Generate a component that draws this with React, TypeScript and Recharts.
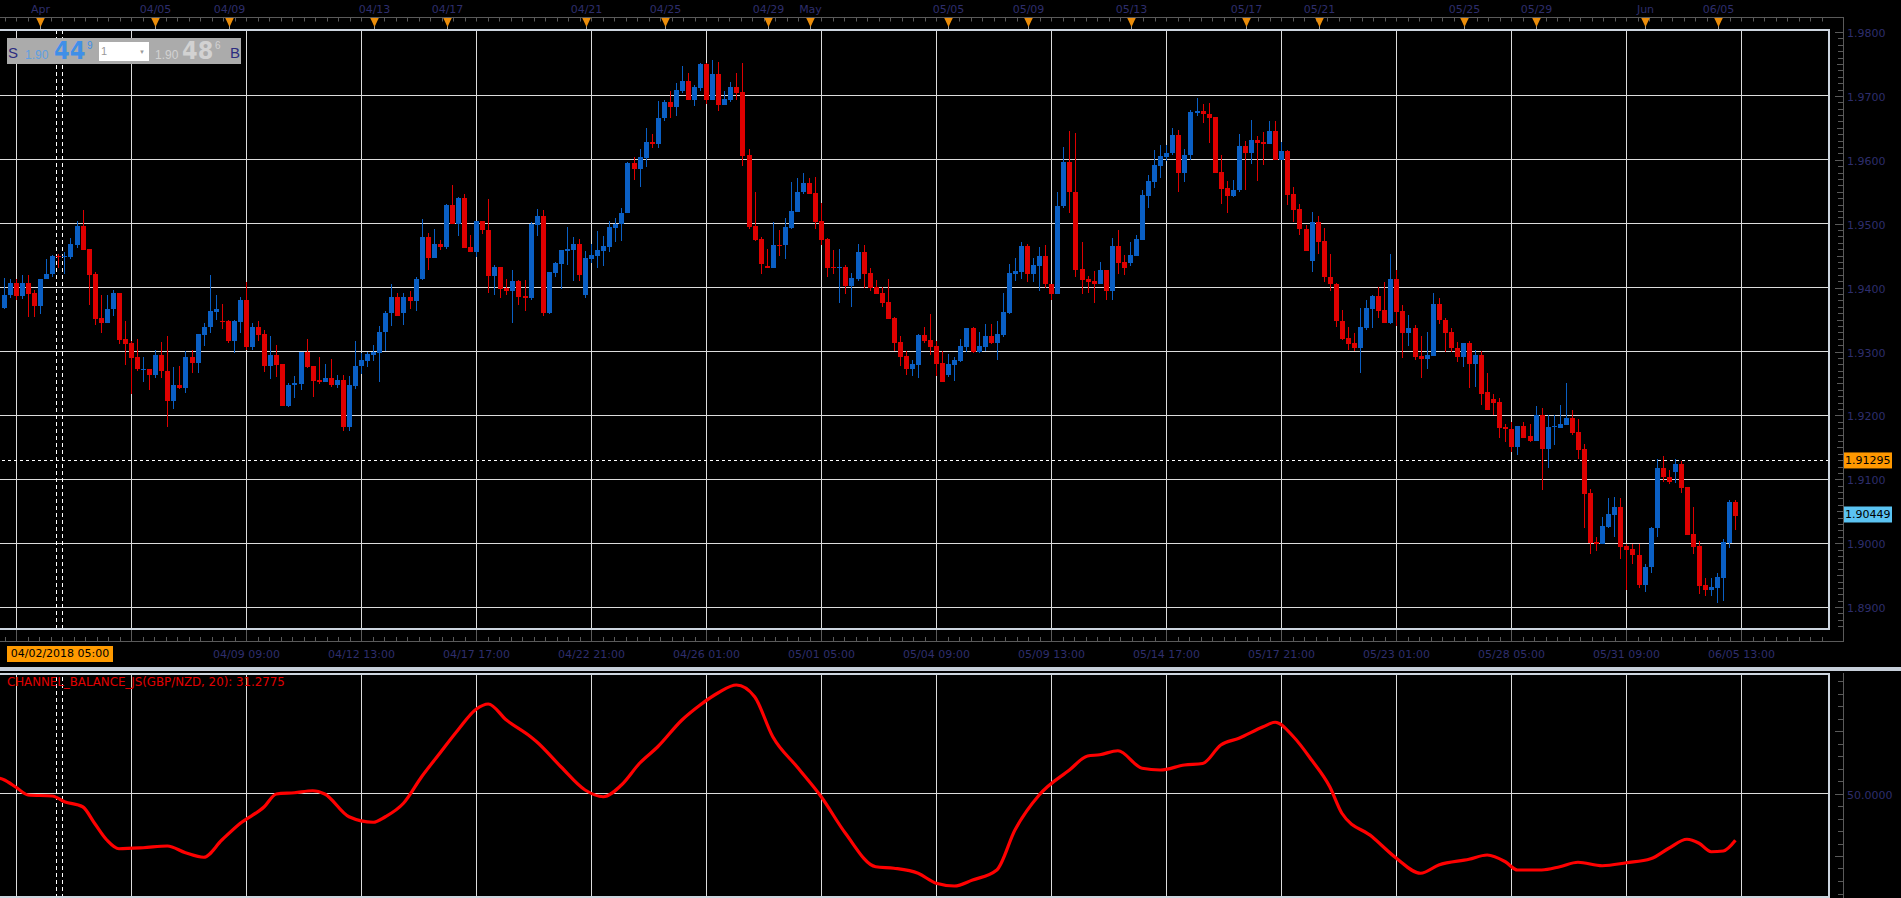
import React from 'react';
import { ComposedChart, Bar, Line, XAxis, YAxis, ReferenceLine } from 'recharts';

// ---------- DATA (GBP/NZD 4H candles, index 0 = first fully visible candle) ----------
const opens = [
  1.9368,1.9388,1.9407,1.9387,1.9407,1.9391,1.9371,1.9413,1.9421,1.9450,
  1.9448,1.9448,1.9467,1.9497,1.9460,1.9421,1.9352,1.9344,1.9366,1.9391,
  1.9319,1.9313,1.9291,1.9272,1.9273,1.9263,1.9295,1.9270,1.9222,1.9247,
  1.9243,1.9292,1.9282,1.9326,1.9338,1.9362,1.9348,1.9347,1.9316,1.9346,
  1.9380,1.9307,1.9338,1.9327,1.9277,1.9294,1.9280,1.9215,1.9247,1.9249,
  1.9299,1.9277,1.9255,1.9252,1.9258,1.9247,1.9256,1.9182,1.9246,1.9277,
  1.9285,1.9294,1.9297,1.9330,1.9360,1.9385,1.9360,1.9385,1.9379,1.9413,
  1.9479,1.9446,1.9469,1.9463,1.9530,1.9500,1.9541,1.9463,1.9456,1.9504,
  1.9490,1.9418,1.9432,1.9400,1.9394,1.9410,1.9387,1.9384,1.9498,1.9512,
  1.9361,1.9423,1.9437,1.9458,1.9459,1.9468,1.9389,1.9445,1.9450,1.9458,
  1.9464,1.9494,1.9499,1.9516,1.9595,1.9586,1.9603,1.9628,1.9625,1.9665,
  1.9691,1.9682,1.9708,1.9723,1.9694,1.9713,1.9750,1.9694,1.9734,1.9686,
  1.9694,1.9714,1.9706,1.9608,1.9496,1.9476,1.9434,1.9431,1.9467,1.9466,
  1.9494,1.9519,1.9549,1.9564,1.9548,1.9504,1.9476,1.9432,1.9430,1.9432,
  1.9403,1.9414,1.9456,1.9423,1.9401,1.9392,1.9377,1.9353,1.9315,1.9293,
  1.9273,1.9279,1.9326,1.9318,1.9308,1.9282,1.9264,1.9279,1.9285,1.9307,
  1.9337,1.9299,1.9307,1.9324,1.9314,1.9326,1.9361,1.9422,1.9425,1.9465,
  1.9422,1.9434,1.9449,1.9406,1.9390,1.9527,1.9597,1.9550,1.9429,1.9413,
  1.9410,1.9406,1.9428,1.9395,1.9465,1.9440,1.9439,1.9450,1.9475,1.9544,
  1.9566,1.9591,1.9605,1.9610,1.9639,1.9580,1.9607,1.9674,1.9677,1.9672,
  1.9667,1.9581,1.9556,1.9544,1.9552,1.9622,1.9611,1.9631,1.9628,1.9625,
  1.9645,1.9599,1.9614,1.9547,1.9523,1.9492,1.9441,1.9503,1.9473,1.9417,
  1.9406,1.9348,1.9321,1.9313,1.9306,1.9337,1.9367,1.9387,1.9365,1.9345,
  1.9413,1.9363,1.9329,1.9337,1.9293,1.9289,1.9293,1.9374,1.9350,1.9330,
  1.9306,1.9292,1.9314,1.9281,1.9294,1.9236,1.9225,1.9221,1.9182,1.9179,
  1.9151,1.9184,1.9167,1.9160,1.9201,1.9148,1.9182,1.9181,1.9185,1.9196,
  1.9174,1.9148,1.9079,1.9002,1.8998,1.9026,1.9044,1.9056,1.8996,1.8991,
  1.8982,1.8935,1.8962,1.9023,1.9118,1.9104,1.9111,1.9124,1.9088,1.9015,
  1.8996,1.8935,1.8926,1.8930,1.8946,1.9001,1.9065,
];
const highs = [
  1.9415,1.9413,1.9413,1.9419,1.9419,1.9397,1.9414,1.9444,1.9451,1.9452,
  1.9456,1.9477,1.9504,1.9522,1.9460,1.9425,1.9388,1.9388,1.9397,1.9391,
  1.9347,1.9317,1.9320,1.9292,1.9273,1.9302,1.9315,1.9324,1.9275,1.9278,
  1.9301,1.9303,1.9328,1.9345,1.9419,1.9389,1.9375,1.9349,1.9350,1.9386,
  1.9408,1.9345,1.9347,1.9333,1.9325,1.9310,1.9280,1.9250,1.9261,1.9299,
  1.9320,1.9277,1.9291,1.9281,1.9288,1.9264,1.9264,1.9261,1.9316,1.9297,
  1.9300,1.9310,1.9340,1.9364,1.9405,1.9391,1.9392,1.9394,1.9416,1.9508,
  1.9486,1.9491,1.9474,1.9531,1.9560,1.9542,1.9546,1.9483,1.9505,1.9505,
  1.9539,1.9435,1.9432,1.9414,1.9427,1.9412,1.9412,1.9503,1.9523,1.9521,
  1.9424,1.9440,1.9459,1.9495,1.9479,1.9476,1.9457,1.9468,1.9489,1.9481,
  1.9504,1.9509,1.9525,1.9596,1.9604,1.9617,1.9650,1.9640,1.9692,1.9694,
  1.9708,1.9720,1.9747,1.9736,1.9717,1.9751,1.9751,1.9756,1.9753,1.9708,
  1.9722,1.9736,1.9752,1.9617,1.9550,1.9479,1.9461,1.9503,1.9490,1.9509,
  1.9565,1.9572,1.9579,1.9572,1.9573,1.9532,1.9478,1.9459,1.9460,1.9435,
  1.9423,1.9469,1.9467,1.9431,1.9412,1.9401,1.9414,1.9354,1.9325,1.9301,
  1.9287,1.9328,1.9339,1.9358,1.9317,1.9301,1.9296,1.9292,1.9319,1.9337,
  1.9338,1.9330,1.9343,1.9343,1.9348,1.9392,1.9437,1.9446,1.9471,1.9468,
  1.9446,1.9464,1.9467,1.9406,1.9550,1.9620,1.9645,1.9642,1.9471,1.9418,
  1.9426,1.9440,1.9428,1.9478,1.9490,1.9451,1.9471,1.9482,1.9553,1.9576,
  1.9615,1.9623,1.9623,1.9650,1.9647,1.9617,1.9678,1.9697,1.9687,1.9689,
  1.9667,1.9608,1.9567,1.9568,1.9641,1.9630,1.9662,1.9637,1.9644,1.9661,
  1.9661,1.9628,1.9615,1.9557,1.9531,1.9498,1.9518,1.9512,1.9493,1.9453,
  1.9407,1.9365,1.9338,1.9329,1.9368,1.9381,1.9388,1.9401,1.9409,1.9453,
  1.9428,1.9373,1.9357,1.9341,1.9324,1.9330,1.9392,1.9384,1.9352,1.9336,
  1.9315,1.9314,1.9317,1.9303,1.9301,1.9267,1.9234,1.9228,1.9187,1.9189,
  1.9184,1.9189,1.9187,1.9215,1.9211,1.9200,1.9200,1.9217,1.9250,1.9209,
  1.9195,1.9156,1.9085,1.9010,1.9041,1.9070,1.9073,1.9070,1.8999,1.8998,
  1.8998,1.8968,1.9026,1.9132,1.9137,1.9115,1.9132,1.9128,1.9088,1.9057,
  1.9004,1.8946,1.8946,1.8954,1.9007,1.9068,1.9068,
];
const lows = [
  1.9366,1.9384,1.9381,1.9382,1.9354,1.9354,1.9359,1.9413,1.9417,1.9431,
  1.9421,1.9445,1.9462,1.9459,1.9373,1.9342,1.9329,1.9344,1.9355,1.9312,
  1.9279,1.9234,1.9270,1.9252,1.9240,1.9258,1.9258,1.9182,1.9210,1.9241,
  1.9235,1.9266,1.9266,1.9308,1.9329,1.9349,1.9335,1.9313,1.9297,1.9329,
  1.9302,1.9302,1.9316,1.9268,1.9257,1.9260,1.9215,1.9213,1.9227,1.9240,
  1.9274,1.9229,1.9249,1.9252,1.9244,1.9243,1.9176,1.9176,1.9241,1.9265,
  1.9276,1.9285,1.9252,1.9301,1.9340,1.9355,1.9341,1.9366,1.9363,1.9412,
  1.9427,1.9446,1.9459,1.9460,1.9500,1.9481,1.9462,1.9456,1.9448,1.9484,
  1.9392,1.9389,1.9384,1.9389,1.9345,1.9373,1.9364,1.9381,1.9480,1.9356,
  1.9359,1.9417,1.9398,1.9436,1.9411,1.9411,1.9384,1.9439,1.9431,1.9434,
  1.9456,1.9472,1.9473,1.9516,1.9569,1.9558,1.9589,1.9619,1.9619,1.9660,
  1.9666,1.9669,1.9704,1.9694,1.9685,1.9708,1.9688,1.9693,1.9677,1.9686,
  1.9691,1.9693,1.9590,1.9492,1.9473,1.9422,1.9430,1.9431,1.9450,1.9444,
  1.9492,1.9519,1.9546,1.9546,1.9492,1.9467,1.9416,1.9422,1.9376,1.9390,
  1.9369,1.9411,1.9400,1.9395,1.9390,1.9370,1.9351,1.9301,1.9278,1.9264,
  1.9262,1.9259,1.9313,1.9295,1.9262,1.9253,1.9260,1.9254,1.9284,1.9300,
  1.9297,1.9298,1.9301,1.9312,1.9286,1.9323,1.9359,1.9411,1.9414,1.9409,
  1.9409,1.9394,1.9400,1.9381,1.9390,1.9525,1.9516,1.9416,1.9390,1.9392,
  1.9376,1.9406,1.9381,1.9381,1.9422,1.9420,1.9434,1.9450,1.9475,1.9525,
  1.9556,1.9572,1.9598,1.9608,1.9549,1.9566,1.9600,1.9669,1.9658,1.9627,
  1.9580,1.9531,1.9516,1.9542,1.9549,1.9553,1.9594,1.9567,1.9592,1.9625,
  1.9599,1.9599,1.9530,1.9502,1.9483,1.9458,1.9425,1.9453,1.9409,1.9395,
  1.9339,1.9318,1.9303,1.9301,1.9267,1.9333,1.9336,1.9353,1.9345,1.9343,
  1.9340,1.9290,1.9309,1.9286,1.9259,1.9273,1.9293,1.9343,1.9300,1.9299,
  1.9284,1.9275,1.9243,1.9245,1.9217,1.9209,1.9201,1.9165,1.9159,1.9143,
  1.9138,1.9165,1.9159,1.9160,1.9084,1.9117,1.9154,1.9181,1.9185,1.9170,
  1.9131,1.9024,1.8983,1.8987,1.8998,1.9024,1.9009,1.8976,1.8926,1.8968,
  1.8930,1.8924,1.8953,1.9010,1.9095,1.9092,1.9094,1.9079,1.9013,1.8983,
  1.8921,1.8918,1.8918,1.8907,1.8910,1.8993,1.9021,
];
const closes = [
  1.9389,1.9407,1.9387,1.9407,1.9390,1.9371,1.9414,1.9422,1.9450,1.9448,
  1.9449,1.9468,1.9497,1.9459,1.9419,1.9351,1.9344,1.9367,1.9391,1.9318,
  1.9312,1.9290,1.9272,1.9273,1.9263,1.9295,1.9269,1.9222,1.9247,1.9243,
  1.9292,1.9282,1.9327,1.9339,1.9363,1.9366,1.9347,1.9316,1.9347,1.9380,
  1.9307,1.9338,1.9326,1.9277,1.9294,1.9279,1.9215,1.9248,1.9250,1.9299,
  1.9276,1.9254,1.9252,1.9258,1.9247,1.9256,1.9182,1.9247,1.9278,1.9286,
  1.9296,1.9299,1.9331,1.9361,1.9385,1.9355,1.9385,1.9379,1.9414,1.9479,
  1.9446,1.9469,1.9463,1.9530,1.9500,1.9541,1.9462,1.9456,1.9504,1.9490,
  1.9418,1.9432,1.9398,1.9394,1.9410,1.9386,1.9384,1.9500,1.9512,1.9361,
  1.9424,1.9438,1.9459,1.9460,1.9468,1.9419,1.9446,1.9451,1.9459,1.9465,
  1.9495,1.9500,1.9517,1.9595,1.9586,1.9604,1.9628,1.9625,1.9666,1.9691,
  1.9682,1.9709,1.9723,1.9694,1.9714,1.9750,1.9694,1.9734,1.9686,1.9695,
  1.9714,1.9705,1.9606,1.9495,1.9474,1.9437,1.9431,1.9467,1.9466,1.9495,
  1.9520,1.9550,1.9564,1.9547,1.9503,1.9474,1.9431,1.9430,1.9432,1.9403,
  1.9415,1.9456,1.9422,1.9400,1.9390,1.9376,1.9351,1.9314,1.9292,1.9273,
  1.9281,1.9326,1.9317,1.9307,1.9281,1.9253,1.9281,1.9287,1.9309,1.9337,
  1.9299,1.9309,1.9324,1.9314,1.9327,1.9362,1.9423,1.9426,1.9465,1.9422,
  1.9435,1.9449,1.9405,1.9390,1.9528,1.9597,1.9549,1.9428,1.9412,1.9409,
  1.9406,1.9428,1.9395,1.9465,1.9439,1.9430,1.9451,1.9476,1.9545,1.9567,
  1.9592,1.9606,1.9611,1.9639,1.9580,1.9608,1.9675,1.9677,1.9671,1.9666,
  1.9580,1.9555,1.9544,1.9553,1.9622,1.9611,1.9631,1.9627,1.9625,1.9645,
  1.9599,1.9614,1.9545,1.9522,1.9491,1.9458,1.9503,1.9472,1.9416,1.9405,
  1.9347,1.9320,1.9312,1.9306,1.9338,1.9368,1.9387,1.9364,1.9345,1.9413,
  1.9362,1.9329,1.9337,1.9292,1.9289,1.9294,1.9374,1.9350,1.9329,1.9305,
  1.9292,1.9314,1.9281,1.9294,1.9234,1.9209,1.9220,1.9181,1.9178,1.9151,
  1.9184,1.9165,1.9160,1.9201,1.9148,1.9182,1.9183,1.9187,1.9196,1.9173,
  1.9146,1.9077,1.9001,1.8998,1.9027,1.9045,1.9056,1.8994,1.8990,1.8981,
  1.8935,1.8963,1.9024,1.9118,1.9103,1.9095,1.9124,1.9087,1.9013,1.8994,
  1.8933,1.8926,1.8932,1.8947,1.9002,1.9065,1.9043,
];

// Channel balance indicator, read at candle indices
const indicatorIdx = [-1,0,2,4,8,10,13,15,17,19,23,27,30,33,36,39,43,45,48,51,53,57,61,63,66,69,72,75,78,80,83,87,88,92,96,99,102,105,108,112,115,118,121,124,127,131,135,139,144,147,151,154,157,160,164,167,171,176,179,181,184,188,191,195,198,201,204,208,210,213,216,219,221,226,230,234,237,242,245,248,250,254,257,260,264,268,272,275,278,280,282,284,286];
const indicatorVal = [56.3,55.5,52.5,49.4,49.0,46.7,44.7,38.0,31.4,27.9,28.3,29.0,26.3,24.5,31.4,38.0,44.7,49.8,50.3,51.1,49.8,40.7,38.5,40.7,46.1,56.7,66.1,75.4,83.7,85.8,79.4,72.7,70.7,60.7,51.4,48.7,53.4,62.1,68.7,79.4,85.4,90.3,93.4,88.7,72.7,60.7,48.7,34.1,20.7,20.1,18.1,14.1,13.0,15.4,19.4,35.4,49.4,59.4,65.0,65.5,67.1,60.1,59.4,61.4,62.0,69.4,72.1,76.7,78.5,72.7,63.4,52.7,42.1,32.7,24.1,18.1,21.4,23.7,25.4,22.7,19.4,19.4,20.7,22.5,21.1,22.3,23.9,28.1,31.7,30.1,26.7,27.0,31.28];

// Axis / grid values
const gridIdx = [2,21,40,59,78,97,116,135,154,173,192,211,230,249,268,287];
const priceGrid = [1.89,1.90,1.91,1.92,1.93,1.94,1.95,1.96,1.97];
const bottomLabelIdx = [40,59,78,97,116,135,154,173,192,211,230,249,268,287];
const bottomLabelText = ['04/09 09:00','04/12 13:00','04/17 17:00','04/22 21:00','04/26 01:00','05/01 05:00','05/04 09:00','05/09 13:00','05/14 17:00','05/17 21:00','05/23 01:00','05/28 05:00','05/31 09:00','06/05 13:00'];
const topLabelIdx = [5.9,24.9,37.1,61.1,73.2,96.2,109.2,126.2,133.2,156,169.1,186.1,205.1,217.2,241.1,253,271,283.1];
const topLabelText = ['Apr','04/05','04/09','04/13','04/17','04/21','04/25','04/29','May','05/05','05/09','05/13','05/17','05/21','05/25','05/29','Jun','06/05'];
const crossIdx = [8.66, 9.65];
const CROSS_PRICE = 1.91295;
const LAST_PRICE = 1.90449;
const LAST_IND = 31.2775;

// ---------- STYLE ----------
const AXFONT = '"DejaVu Sans", Verdana, sans-serif';
const NAVY = '#2e2e6c';
const RED = '#de0000';
const BLUE = '#0a5fc4';
const GRID = '#dcdcdc';
const FRAME = '#cdd5df';
const AXISC = '#5a5a5a';
const AX = 1843;
const X_DOMAIN: [number, number] = [-0.644, 301.46];
const PRICE_DOMAIN: [number, number] = [1.88657, 1.98016];
const IND_DOMAIN: [number, number] = [8.2, 98.2];

const candles = opens.map((o, i) => {
  const c = closes[i];
  const h = Math.max(highs[i], o, c);
  const l = Math.min(lows[i], o, c);
  return { i, o, h, l, c, range: [l, h] };
});
const indData = indicatorIdx.map((i, k) => ({ i, v: indicatorVal[k] }));

const minorTicks = Array.from({ length: 159 }, (_, k) => Math.round((2 + 1.9 * (k - 1)) * 100) / 100);
const topLabelMap = new Map<number, string>(topLabelIdx.map((v, k) => [v, topLabelText[k]]));
const bottomLabelMap = new Map<number, string>(bottomLabelIdx.map((v, k) => [v, bottomLabelText[k]]));
const topTicks = [...minorTicks, ...topLabelIdx];
const priceTicks = [...Array.from({ length: 94 }, (_, k) => Math.round((1.887 + k * 0.001) * 1000) / 1000), CROSS_PRICE, LAST_PRICE];
const indTicks = Array.from({ length: 18 }, (_, k) => 10 + k * 5);

const coordOf = (p: any, axis: 'x' | 'y') => {
  const c = p?.payload?.coordinate;
  return typeof c === 'number' ? c : p[axis];
};

const Candle = (props: any) => {
  const { x, y, width, height, payload } = props;
  if (x == null || y == null || !payload) return null;
  const top = Math.min(y, y + height);
  const bot = Math.max(y, y + height);
  const { o, c, h, l } = payload;
  const toY = (v: number) => (h === l ? top : top + ((h - v) / (h - l)) * (bot - top));
  const color = c >= o ? BLUE : RED;
  const w = Math.max(1, Math.round(width));
  const left = Math.round(x);
  const cx = left + Math.floor(w / 2) + 0.5;
  const b1 = Math.round(toY(Math.max(o, c)));
  const b2 = Math.round(toY(Math.min(o, c)));
  return (
    <g>
      <line x1={cx} x2={cx} y1={Math.round(top)} y2={Math.round(bot)} stroke={color} strokeWidth={1} />
      <rect x={left} y={b1} width={w} height={Math.max(1, b2 - b1)} fill={color} shapeRendering="crispEdges" />
    </g>
  );
};

const TopTick = (p: any) => {
  const v = p.payload.value;
  const x = Math.round(coordOf(p, 'x')) + 0.5;
  const lbl = topLabelMap.get(v);
  if (lbl) {
    return (
      <g>
        <text x={x} y={12.5} textAnchor="middle" fill={NAVY} fontSize={11} fontFamily={AXFONT}>{lbl}</text>
        <line x1={x} x2={x} y1={25} y2={30} stroke="#9a9a9a" />
        <path d={`M${x - 4.5},17.5 L${x + 4.5},17.5 L${x},27 Z`} fill="#eb8d0b" />
      </g>
    );
  }
  return <line x1={x} x2={x} y1={17} y2={21.5} stroke={AXISC} />;
};

const BottomTick = (p: any) => {
  const v = p.payload.value;
  const x = Math.round(coordOf(p, 'x')) + 0.5;
  const r = (v - 2) / 19;
  const major = Math.abs(r - Math.round(r)) < 0.01;
  const lbl = major ? bottomLabelMap.get(Math.round(v)) : undefined;
  return (
    <g>
      <line x1={x} x2={x} y1={major ? 630 : 637} y2={641} stroke={AXISC} />
      {lbl && <text x={x} y={658} textAnchor="middle" fill={NAVY} fontSize={11} fontFamily={AXFONT}>{lbl}</text>}
    </g>
  );
};

const PriceTick = (p: any) => {
  const v = p.payload.value;
  const yc = coordOf(p, 'y');
  if (v === CROSS_PRICE || v === LAST_PRICE) {
    const cross = v === CROSS_PRICE;
    return (
      <g>
        <rect x={1844} y={yc - 8} width={48} height={16} fill={cross ? '#ff9800' : '#5bc3f2'} />
        <text x={1845} y={yc} dy={4} fontSize={11} fill="#000" fontFamily={AXFONT}>{v.toFixed(5)}</text>
      </g>
    );
  }
  const y = Math.round(yc) + 0.5;
  const m = Math.round(v * 1000);
  const major = m % 10 === 0;
  const half = m % 5 === 0;
  return (
    <g>
      <line x1={AX - (major ? 8 : half ? 6 : 5)} x2={AX} y1={y} y2={y} stroke={AXISC} />
      {major && <text x={AX + 4} y={y} dy={4} fontSize={11} fill={NAVY} fontFamily={AXFONT}>{v.toFixed(4)}</text>}
    </g>
  );
};

const IndTick = (p: any) => {
  const v = p.payload.value;
  const y = Math.round(coordOf(p, 'y')) + 0.5;
  const major = v % 25 === 0;
  return (
    <g>
      <line x1={AX - (major ? 8 : 5)} x2={AX} y1={y} y2={y} stroke={AXISC} />
      {v === 50 && <text x={AX + 4} y={y} dy={4} fontSize={11} fill={NAVY} fontFamily={AXFONT}>50.0000</text>}
    </g>
  );
};

const abs = (s: React.CSSProperties): React.CSSProperties => ({ position: 'absolute', ...s });

export default function App() {
  return (
    <div style={abs({ left: 0, top: 0, width: 1901, height: 898, background: '#000', overflow: 'hidden', fontFamily: AXFONT })}>
      {/* price panel */}
      <div style={abs({ left: 0, top: 0 })}>
        <ComposedChart width={1901} height={666} data={candles} margin={{ top: 0, right: 0, bottom: 0, left: 0 }}>
          <XAxis xAxisId="t" orientation="top" type="number" dataKey="i" domain={X_DOMAIN} allowDataOverflow height={31}
            ticks={topTicks} interval={0} tick={TopTick} tickLine={false} axisLine={false} />
          <XAxis xAxisId="b" orientation="bottom" type="number" dataKey="i" domain={X_DOMAIN} allowDataOverflow height={37}
            ticks={minorTicks} interval={0} tick={BottomTick} tickLine={false} axisLine={false} />
          <YAxis yAxisId="p" orientation="right" type="number" domain={PRICE_DOMAIN} allowDataOverflow width={72}
            ticks={priceTicks} interval={0} tick={PriceTick} tickLine={false} axisLine={false} />
          {priceGrid.map((v) => (
            <ReferenceLine key={'h' + v} xAxisId="b" yAxisId="p" y={v} stroke={GRID} strokeWidth={1} shapeRendering="crispEdges" zIndex={-50} />
          ))}
          {gridIdx.map((v) => (
            <ReferenceLine key={'v' + v} xAxisId="b" yAxisId="p" x={v} stroke={GRID} strokeWidth={1} shapeRendering="crispEdges" zIndex={-50} />
          ))}
          <ReferenceLine xAxisId="b" yAxisId="p" y={CROSS_PRICE} stroke="#ffffff" strokeDasharray="3 3" shapeRendering="crispEdges" zIndex={-40} />
          {crossIdx.map((v) => (
            <ReferenceLine key={'c' + v} xAxisId="b" yAxisId="p" x={v} stroke="#ffffff" strokeDasharray="4 3" shapeRendering="crispEdges" zIndex={-40} />
          ))}
          <Bar xAxisId="b" yAxisId="p" dataKey="range" barSize={5} shape={Candle} isAnimationActive={false} />
        </ComposedChart>
      </div>

      {/* indicator panel */}
      <div style={abs({ left: 0, top: 673 })}>
        <ComposedChart width={1901} height={225} data={indData} margin={{ top: 0, right: 0, bottom: 0, left: 0 }}>
          <XAxis xAxisId="b" type="number" dataKey="i" domain={X_DOMAIN} allowDataOverflow hide />
          <YAxis yAxisId="v" orientation="right" type="number" domain={IND_DOMAIN} allowDataOverflow width={72}
            ticks={indTicks} interval={0} tick={IndTick} tickLine={false} axisLine={false} />
          <ReferenceLine xAxisId="b" yAxisId="v" y={50} stroke={GRID} shapeRendering="crispEdges" zIndex={-50} />
          {gridIdx.map((v) => (
            <ReferenceLine key={'iv' + v} xAxisId="b" yAxisId="v" x={v} stroke={GRID} shapeRendering="crispEdges" zIndex={-50} />
          ))}
          {crossIdx.map((v) => (
            <ReferenceLine key={'ic' + v} xAxisId="b" yAxisId="v" x={v} stroke="#ffffff" strokeDasharray="4 3" shapeRendering="crispEdges" zIndex={-40} />
          ))}
          <Line xAxisId="b" yAxisId="v" dataKey="v" type="monotone" stroke="#ff0000" strokeWidth={3.2} dot={false} isAnimationActive={false} />
        </ComposedChart>
      </div>

      {/* axis lines and frames */}
      <div style={abs({ left: 0, top: 17, width: 1844, height: 1, background: AXISC })} />
      <div style={abs({ left: 0, top: 641, width: 1844, height: 1, background: AXISC })} />
      <div style={abs({ left: AX, top: 17, width: 1, height: 625, background: AXISC })} />
      <div style={abs({ left: AX, top: 673, width: 1, height: 225, background: AXISC })} />
      <div style={abs({ left: 0, top: 29, width: 1830, height: 2, background: FRAME })} />
      <div style={abs({ left: 1828, top: 29, width: 2, height: 601, background: FRAME })} />
      <div style={abs({ left: 0, top: 628, width: 1830, height: 2, background: FRAME })} />
      <div style={abs({ left: 0, top: 667, width: 1901, height: 4, background: '#c6ced9' })} />
      <div style={abs({ left: 0, top: 673, width: 1830, height: 2, background: FRAME })} />
      <div style={abs({ left: 1828, top: 673, width: 2, height: 225, background: FRAME })} />
      <div style={abs({ left: 0, top: 896, width: 1830, height: 2, background: FRAME })} />

      {/* crosshair time label */}
      <div style={abs({ left: 7, top: 646, width: 106, height: 16, background: '#ff9a00', color: '#000', fontSize: 11, lineHeight: '16px', textAlign: 'center', whiteSpace: 'nowrap' })}>
        04/02/2018 05:00
      </div>

      {/* indicator caption */}
      <div style={abs({ left: 7, top: 676, fontSize: 11.8, lineHeight: '13px', color: '#e00000', whiteSpace: 'nowrap' })}>
        {`CHANNEL_BALANCE_JS(GBP/NZD, 20): ${LAST_IND.toFixed(4)}`}
      </div>

      {/* one-click trading box */}
      <div style={abs({ left: 7, top: 38, width: 234, height: 26, background: '#ababab', fontFamily: '"Liberation Sans", Arial, sans-serif', lineHeight: 1, whiteSpace: 'nowrap' })}>
        <span style={abs({ left: 1, top: 7, fontSize: 15, color: '#2d2d80' })}>S</span>
        <span style={abs({ left: 18, top: 11, fontSize: 12, color: '#5f9fe2' })}>1.90</span>
        <span style={abs({ left: 47, top: 0, fontSize: 25, fontWeight: 'bold', color: '#3f8fe8', fontFamily: '"Liberation Sans Narrow", "DejaVu Sans Condensed", "Liberation Sans", sans-serif' })}>44</span>
        <span style={abs({ left: 80, top: 3, fontSize: 10, color: '#3f8fe8' })}>9</span>
        <div style={abs({ left: 92, top: 4, width: 50, height: 19, background: '#ffffff' })}>
          <span style={abs({ left: 2, top: 4, fontSize: 11, color: '#9a9a9a' })}>1</span>
          <span style={abs({ left: 40, top: 7, fontSize: 6, color: '#9a9a9a' })}>▼</span>
        </div>
        <span style={abs({ left: 148, top: 11, fontSize: 12, color: '#d2d2d2' })}>1.90</span>
        <span style={abs({ left: 175, top: 0, fontSize: 25, fontWeight: 'bold', color: '#d2d2d2', fontFamily: '"Liberation Sans Narrow", "DejaVu Sans Condensed", "Liberation Sans", sans-serif' })}>48</span>
        <span style={abs({ left: 208, top: 3, fontSize: 10, color: '#d2d2d2' })}>6</span>
        <span style={abs({ left: 223, top: 7, fontSize: 15, color: '#2d2d80' })}>B</span>
      </div>
    </div>
  );
}
